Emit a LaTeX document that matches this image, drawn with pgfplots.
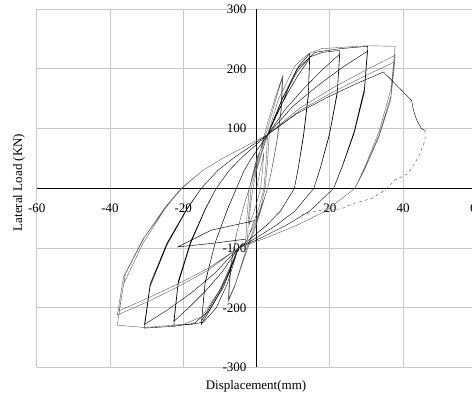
\documentclass[border=0pt]{standalone}
\usepackage{fontspec}
\setmainfont{Liberation Serif}
\usepackage{pgfplots}
\pgfplotsset{compat=1.18}
\definecolor{curve}{HTML}{5E5E5E}
\definecolor{gridc}{HTML}{C8C8C8}
\begin{document}
\begin{tikzpicture}
\begin{axis}[
  at={(36.7pt,28.5pt)}, anchor=south west,
  scale only axis, width=439.8pt, height=358.2pt,
  xmin=-60, xmax=60, ymin=-300, ymax=300,
  axis lines=center, axis line style={-, black, line width=0.7pt},
  xtick={-60,-40,-20,0,20,40,60}, ytick={-300,-200,-100,0,100,200,300},
  xticklabels={-60,-40,-20,0,20,40,60},
  yticklabels={-300,-200,-100,0,100,200,300},
  grid=major, major grid style={draw=gridc, line width=1pt},
  major tick length=0pt,
  xticklabel style={anchor=center, yshift=-20pt, inner sep=0pt},
  yticklabel style={anchor=east, xshift=-10pt, inner sep=0pt},
  tick label style={font=\fontsize{13}{15}\selectfont},
  cycle list={{curve, line width=0.45pt, line join=round, mark=none}},
  clip=false,
]
% initial small cycles and level 1
\addplot coordinates {(0,0) (1,30) (2,60) (1.6,30) (1.1,0) (0,-25) (-1,-45) (-2,-60) (-1.7,-30) (-1,0) (0,30) (1.5,60) (3,90) (2.6,45) (2,0) (0.5,-35) (-1,-60) (-2.5,-85) (-2.1,-40) (-1.5,0) (0,35) (1.5,65) (3.5,95) (3,45) (2.3,0) (1,-35) (-1,-65) (-3,-90) (-2.6,-45) (-2,0)
 (0,40) (3,110) (5.5,160) (7.2,190) (6.8,133) (5.5,76) (4.05,28.5) (3,0) (0,-60) (-3,-110) (-6,-165) (-7.8,-190) (-7.2,-133) (-5.5,-76) (-3.45,-28.5) (-2,0)
 (0,45) (3,100) (5.3,150) (7,185) (6.6,130) (5.4,75) (4,28) (3,0) (0,-55) (-3,-105) (-5.8,-160) (-7.6,-185) (-7.0,-130) (-5.4,-74) (-3.4,-28) (-2,0) (0,50) (3,90)};
% level 2
\addplot coordinates {(3,90) (6.8,140) (9.5,180) (11.5,205) (14.5,226) (14.1,158) (12.8,90) (11.35,34) (10.3,0) (6.5,-38) (2.65,-62) (-1.2,-82) (-5,-100) (-7.5,-142) (-10.05,-174) (-12.6,-202) (-15.1,-228) (-14.1,-160) (-11.3,-91) (-7.9,-34) (-5.5,0) (-3.4,30) (-1.25,52) (0.9,71) (3,90)
 (5.9,130) (8.75,163) (11.6,192) (14.5,218) (14.1,153) (12.8,87) (11.35,33) (10.3,0) (6.5,-38) (2.65,-62) (-1.2,-82) (-5,-100) (-7.5,-138) (-10.05,-170) (-12.6,-197) (-15,-222) (-14,-156) (-11.2,-89) (-7.8,-33) (-5.5,0) (-3.4,30) (-1.25,52) (0.9,71) (3,90)};
% level 3
\addplot coordinates {(3,90) (7,150) (11,195) (14.5,220) (18,228) (22.7,231) (22.0,162) (19.9,92) (17.4,35) (15.6,0) (10.45,-38) (5.3,-62) (0.15,-82) (-5,-100) (-8,-160) (-11,-200) (-14.5,-224) (-18,-228) (-22.6,-229) (-21.4,-160) (-18,-92) (-13.9,-34) (-11,0) (-7.5,30) (-4,52) (-0.5,71) (3,90)
 (7.9,133) (12.85,167) (17.8,198) (22.7,225) (22.0,158) (19.9,90) (17.4,34) (15.6,0) (10.45,-38) (5.3,-62) (0.15,-82) (-5,-100) (-9.4,-140) (-13.8,-171) (-18.2,-198) (-22.6,-223) (-21.4,-156) (-18,-89) (-13.9,-33) (-11,0) (-7.5,30) (-4,52) (-0.5,71) (3,90)};
% level 4
\addplot coordinates {(3,90) (7,150) (11,200) (16,228) (22.7,234) (30.3,238) (29.4,167) (26.6,95) (23.3,36) (21,0) (14.5,-38) (8,-62) (1.5,-82) (-5,-100) (-9,-165) (-13,-205) (-17,-226) (-22.6,-231) (-30.6,-234) (-29.05,-164) (-24.4,-94) (-19,-35) (-15.1,0) (-10.6,30) (-6.05,52) (-1.5,71) (3,90)
 (9.8,137) (16.65,172) (23.5,203) (30.3,230) (29.4,161) (26.6,92) (23.3,35) (21,0) (14.5,-38) (8,-62) (1.5,-82) (-5,-100) (-11.4,-142) (-17.8,-175) (-24.2,-203) (-30.6,-228) (-29.05,-160) (-24.4,-91) (-19,-34) (-15.1,0) (-10.6,30) (-6.05,52) (-1.5,71) (3,90)};
% level 5
\addplot coordinates {(3,90) (6,150) (10.4,205) (14,225) (17.7,234) (25,237) (30.3,239) (37.8,238) (36.7,167) (33.4,95) (29.55,36) (26.8,0) (18.85,-38) (10.9,-62) (2.95,-82) (-5,-100) (-10,-170) (-15,-215) (-20,-228) (-30.6,-233) (-38,-229) (-36.3,-160) (-31,-92) (-25,-34) (-20.6,0) (-14.7,30) (-8.8,52) (-2.9,71) (3,90)
 (11.7,134) (20.4,167) (29.1,196) (37.8,223) (36.7,156) (33.4,89) (29.55,33) (26.8,0) (18.85,-38) (10.9,-62) (2.95,-82) (-5,-100) (-13.25,-137) (-21.5,-165) (-29.75,-190) (-38,-212) (-36.3,-148) (-31,-85) (-25,-32) (-20.6,0) (-14.7,30) (-8.8,52) (-2.9,71) (3,90)
 (11.7,130) (20.4,160) (29.1,187) (37.7,212) (36.6,148) (33.3,85) (29.5,32) (26.8,0) (18.85,-38) (10.9,-62) (2.95,-82) (-5,-100) (-13.25,-134) (-21.5,-160) (-29.75,-184) (-37.5,-205) (-35.8,-143) (-30.6,-82) (-24.7,-31) (-20.4,0) (-14.7,30) (-8.8,52) (-2.9,71) (3,90)};
% spike loop
\addplot coordinates {(-0.5,-54) (-12.4,-70) (-21.5,-98) (-12,-92) (-3,-85)};
% final excursion
\addplot coordinates {(3,90) (10.9,125) (18.8,151) (26.7,174) (34.6,195) (36.9,181) (39.6,164) (42.3,147) (42.8,131) (43.7,114) (45,100) (46,97)};
\addplot[curve, line width=0.45pt, dashed, mark=none] coordinates {(46,97) (46,81) (44.2,53) (41.4,25) (37.8,14) (35,-3) (31.4,-17) (27.8,-23) (26,-26) (23.2,-34) (20.4,-36) (16.8,-37) (12,-45)};
\end{axis}
\node[rotate=90, font=\fontsize{13}{15}\selectfont] at (19pt,213.5pt) {Lateral Load (KN)};
\node[anchor=base, font=\fontsize{13}{15}\selectfont] at (256pt,6pt) {Displacement(mm)};
\pgfresetboundingbox
\path (0pt,0pt) rectangle (472pt,396pt);
\end{tikzpicture}
\end{document}
